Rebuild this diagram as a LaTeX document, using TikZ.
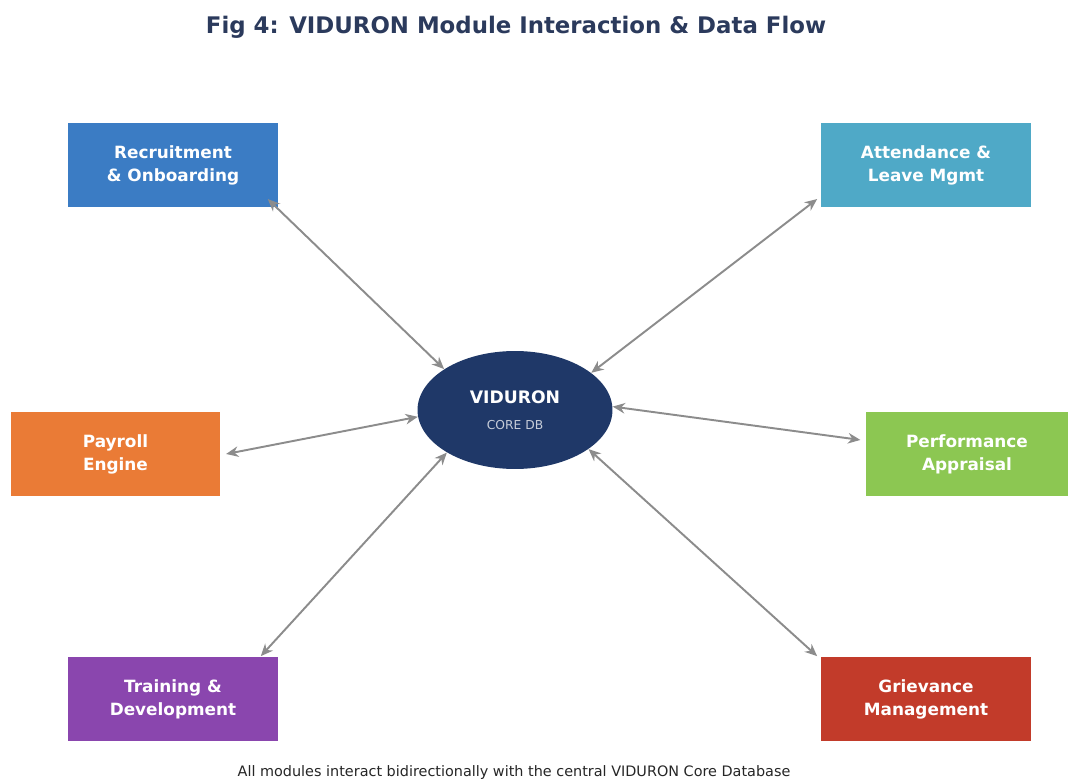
\documentclass[tikz,border=0pt]{standalone}
\usepackage{fontspec}
\setmainfont{DejaVu Sans}
\usetikzlibrary{shapes.geometric,arrows.meta,positioning}

\definecolor{titleblue}{HTML}{2B3A5C}
\definecolor{coreblue}{HTML}{1F3868}
\definecolor{recblue}{HTML}{3B7CC4}
\definecolor{attblue}{HTML}{4FA9C7}
\definecolor{payorange}{HTML}{EA7B36}
\definecolor{perfgreen}{HTML}{8CC752}
\definecolor{trainpurple}{HTML}{8A46AE}
\definecolor{grievred}{HTML}{C23B2A}
\definecolor{linkgray}{HTML}{8C8C8C}

\begin{document}
\begin{tikzpicture}[
  x=0.02cm, y=-0.02cm,
  >={Stealth[length=7pt,width=6pt]},
  module/.style={rectangle, minimum width=4.2cm, minimum height=1.7cm, align=center,
                 text=white, font=\fontsize{9.6}{13}\selectfont\bfseries, inner sep=2pt},
  core/.style={ellipse, fill=coreblue, minimum width=3.9cm, minimum height=2.36cm,
               align=center, inner sep=0pt},
  link/.style={<->, line width=1.1pt, draw=linkgray},
]
\useasboundingbox (0,0) rectangle (1068,783);

\node[font=\fontsize{13}{15}\selectfont\bfseries, text=titleblue] (title) at (516,27)
  {Fig 4: VIDURON Module Interaction \& Data Flow};

% central database
\node[core] (db) at (515,410)
  {\textcolor{white}{\fontsize{9.8}{11}\selectfont\bfseries VIDURON}\\[3pt]
   \textcolor{white!75!coreblue}{\fontsize{7}{8}\selectfont CORE DB}};

% modules
\node[module, fill=recblue]     (rec)   at (173,165) {Recruitment\\\& Onboarding};
\node[module, fill=attblue]     (att)   at (926,165) {Attendance \&\\Leave Mgmt};
\node[module, fill=payorange]   (pay)   at (115.5,454) {Payroll\\Engine};
\node[module, fill=perfgreen, minimum width=4.04cm] (perf) at (967,454) {Performance\\Appraisal};
\node[module, fill=trainpurple] (train) at (173,699) {Training \&\\Development};
\node[module, fill=grievred]    (griev) at (926,699) {Grievance\\Management};

\node[font=\fontsize{8.2}{10}\selectfont, text=black!85] (note) at (514,773)
  {All modules interact bidirectionally with the central VIDURON Core Database};

\draw[link] ([xshift=-6pt,yshift=5pt]rec.south east) -- (db.150);
\draw[link] ([xshift=-2pt,yshift=5pt]att.south west) -- (db.26);
\draw[link] ([xshift=3pt]pay.east) -- (db.184);
\draw[link] ([xshift=-3pt,yshift=8pt]perf.west) -- (db.2);
\draw[link] ([xshift=-10pt]train.north east) -- (db.212);
\draw[link] ([xshift=-2pt]griev.north west) -- (db.332);

\end{tikzpicture}
\end{document}
